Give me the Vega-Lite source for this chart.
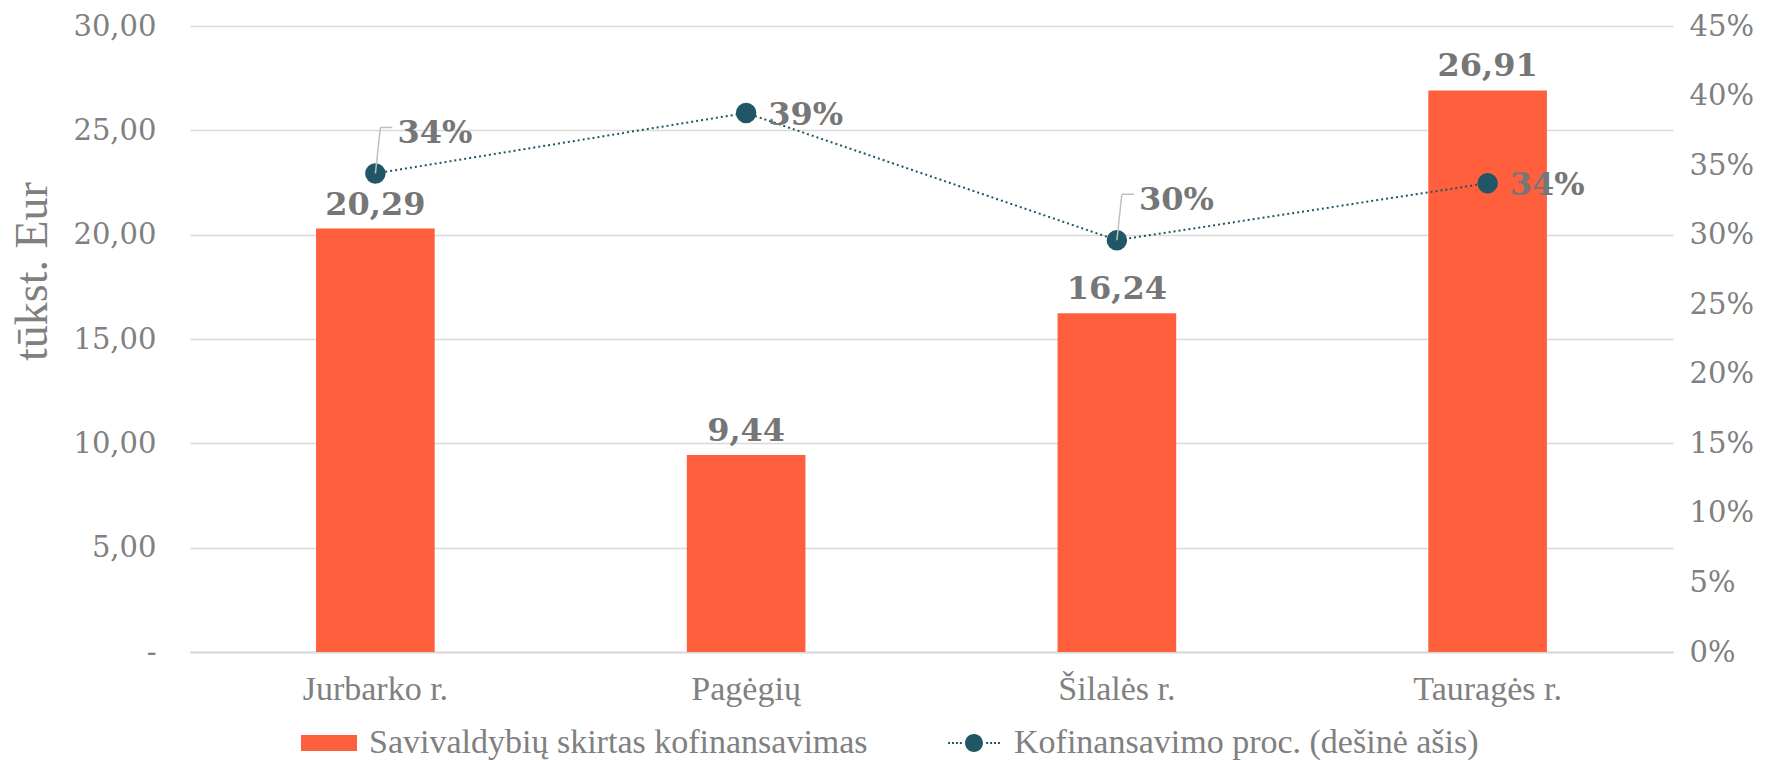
{
  "$schema": "https://vega.github.io/schema/vega-lite/v6.json",
  "width": 1483,
  "height": 626,
  "autosize": {"type": "none"},
  "padding": {"left": 190, "top": 26, "right": 92, "bottom": 108},
  "background": "white",
  "config": {
    "view": {"stroke": null},
    "locale": {"number": {"decimal": ",", "thousands": " ", "grouping": [3], "currency": ["", " €"]}},
    "axis": {"labelColor": "#808080", "titleColor": "#808080", "titleFontWeight": "normal"}
  },
  "data": {
    "values": [
      {"region": "Jurbarko r.", "value": 20.29, "pct": 0.344, "pos": "above"},
      {"region": "Pagėgių", "value": 9.44, "pct": 0.3875, "pos": "right"},
      {"region": "Šilalės r.", "value": 16.24, "pct": 0.296, "pos": "above"},
      {"region": "Tauragės r.", "value": 26.91, "pct": 0.337, "pos": "right"}
    ]
  },
  "encoding": {
    "x": {
      "field": "region",
      "type": "nominal",
      "sort": null,
      "scale": {"paddingInner": 0.68, "paddingOuter": 0.34},
      "axis": {
        "title": null,
        "labelAngle": 0,
        "labelFont": "Liberation Serif",
        "labelFontSize": 34,
        "labelColor": "#808080",
        "labelPadding": 20,
        "ticks": false,
        "tickSize": 0,
        "domainColor": "#D9D9D9",
        "domainWidth": 2
      }
    }
  },
  "layer": [
    {
      "encoding": {
        "y": {
          "field": "value",
          "type": "quantitative",
          "scale": {"domain": [0, 30], "nice": false},
          "axis": {
            "title": "tūkst. Eur",
            "titleFont": "Liberation Serif",
            "titleFontSize": 46,
            "titleAngle": 270,
            "titleAlign": "center",
            "titleBaseline": "middle",
            "titleX": -158,
            "titleY": 245,
            "values": [0, 5, 10, 15, 20, 25, 30],
            "labelExpr": "datum.value == 0 ? '-\u00a0\u00a0' : replace(format(datum.value, '.2f'), '.', ',')",
            "labelFont": "DejaVu Serif",
            "labelFontSize": 29,
            "labelPadding": 34,
            "ticks": false,
            "tickSize": 0,
            "domain": false,
            "grid": true,
            "gridColor": "#D9D9D9",
            "gridWidth": 1.5,
            "zindex": 0
          }
        }
      },
      "layer": [
        {
          "mark": {"type": "bar", "color": "#FF5F3D"},
          "encoding": {
            "color": {
              "datum": "Savivaldybių skirtas kofinansavimas",
              "scale": {
                "domain": ["Savivaldybių skirtas kofinansavimas", "Kofinansavimo proc. (dešinė ašis)"],
                "range": ["#FF5F3D", "#1F5767"]
              },
              "legend": {
                "title": null,
                "orient": "none",
                "direction": "horizontal",
                "legendX": 111,
                "legendY": 689,
                "padding": 0,
                "symbolSize": 3136,
                "symbolStrokeWidth": 0,
                "labelFont": "Liberation Serif",
                "labelFontSize": 34,
                "labelColor": "#808080",
                "labelOffset": 12,
                "columnPadding": 78,
                "labelLimit": 1000,
                "encode": {
                  "symbols": {
                    "update": {
                      "shape": {"signal": "datum.value === 'Savivaldybių skirtas kofinansavimas' ? 'M-1,-0.2857H1V0.2857H-1Z' : 'M-0.925,-0.035h0.07v0.07h-0.07Z M-0.785,-0.035h0.07v0.07h-0.07Z M-0.645,-0.035h0.07v0.07h-0.07Z M-0.505,-0.035h0.07v0.07h-0.07Z M0.435,-0.035h0.07v0.07h-0.07Z M0.575,-0.035h0.07v0.07h-0.07Z M0.715,-0.035h0.07v0.07h-0.07Z M0.855,-0.035h0.07v0.07h-0.07Z M-0.32,0A0.32,0.32 0 1,0 0.32,0A0.32,0.32 0 1,0 -0.32,0Z'"},
                      "fill": {"signal": "datum.value === 'Savivaldybių skirtas kofinansavimas' ? '#FF5F3D' : '#1F5767'"},
                      "fillOpacity": {"value": 1},
                      "strokeWidth": {"value": 0}
                    }
                  }
                }
              }
            }
          }
        },
        {
          "mark": {
            "type": "text",
            "font": "DejaVu Serif",
            "fontWeight": "bold",
            "fontSize": 32,
            "color": "#767676",
            "baseline": "alphabetic",
            "dy": -14
          },
          "encoding": {
            "text": {"field": "value", "type": "quantitative", "format": ".2f"}
          }
        }
      ]
    },
    {
      "encoding": {
        "y": {
          "field": "pct",
          "type": "quantitative",
          "scale": {"domain": [0, 0.45], "nice": false},
          "axis": {
            "title": null,
            "orient": "right",
            "values": [0, 0.05, 0.1, 0.15, 0.2, 0.25, 0.3, 0.35, 0.4, 0.45],
            "format": ".0%",
            "labelFont": "DejaVu Serif",
            "labelFontSize": 29,
            "labelPadding": 16,
            "ticks": false,
            "tickSize": 0,
            "domain": false,
            "grid": false
          }
        }
      },
      "layer": [
        {
          "mark": {"type": "line", "color": "#1F5767", "strokeWidth": 2, "strokeDash": [2, 3]},
          "encoding": {}
        },
        {
          "mark": {"type": "point", "filled": true, "size": 420, "opacity": 1, "shape": "circle"},
          "encoding": {
            "color": {"datum": "Kofinansavimo proc. (dešinė ašis)"}
          }
        },
        {
          "transform": [{"filter": "datum.pos === 'above'"}],
          "mark": {"type": "rule", "color": "#BFBFBF", "strokeWidth": 1.5, "x2Offset": 5, "y2Offset": -46},
          "encoding": {
            "x2": {"field": "region"},
            "y2": {"field": "pct"}
          }
        },
        {
          "transform": [{"filter": "datum.pos === 'above'"}],
          "mark": {"type": "rule", "color": "#BFBFBF", "strokeWidth": 1.5, "xOffset": 5, "x2Offset": 17, "yOffset": -46, "y2Offset": -46},
          "encoding": {
            "x2": {"field": "region"},
            "y2": {"field": "pct"}
          }
        },
        {
          "transform": [{"filter": "datum.pos === 'right'"}],
          "mark": {
            "type": "text",
            "font": "DejaVu Serif",
            "fontWeight": "bold",
            "fontSize": 32,
            "color": "#767676",
            "align": "left",
            "baseline": "middle",
            "dx": 22,
            "dy": 2
          },
          "encoding": {
            "text": {"field": "pct", "type": "quantitative", "format": ".0%"}
          }
        },
        {
          "transform": [{"filter": "datum.pos === 'above'"}],
          "mark": {
            "type": "text",
            "font": "DejaVu Serif",
            "fontWeight": "bold",
            "fontSize": 32,
            "color": "#767676",
            "align": "left",
            "baseline": "alphabetic",
            "dx": 22,
            "dy": -30
          },
          "encoding": {
            "text": {"field": "pct", "type": "quantitative", "format": ".0%"}
          }
        }
      ]
    }
  ],
  "resolve": {"scale": {"y": "independent"}}
}
